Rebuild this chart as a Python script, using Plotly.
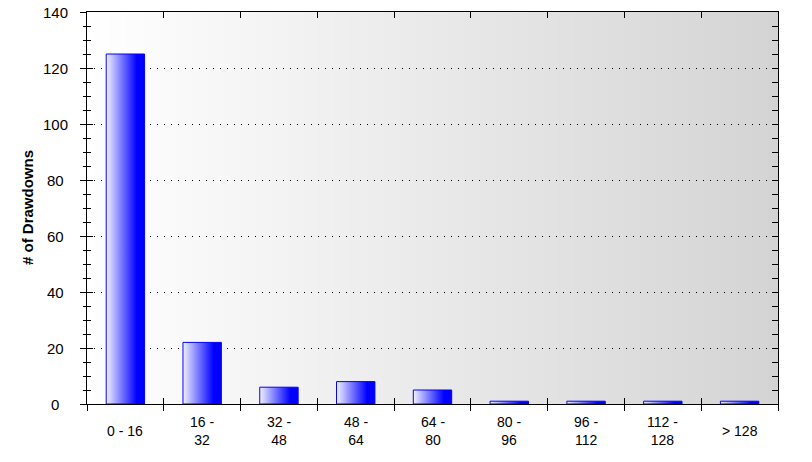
import base64, struct, zlib
import plotly.graph_objects as go

categories = ["0 - 16", "16 -<br>32", "32 -<br>48", "48 -<br>64", "64 -<br>80",
              "80 -<br>96", "96 -<br>112", "112 -<br>128", "> 128"]
counts = [125, 22, 6, 8, 5, 1, 1, 1, 1]
y_ticks = [0, 20, 40, 60, 80, 100, 120, 140]

FONT = "Liberation Sans, Arial, sans-serif"
n = len(categories)
half = 0.25
boundaries = [i - 0.5 for i in range(n + 1)]
PLOT_W = 812 - 87 - 34


def gradient_png(c0, c1, w=256):
    raw = b"\x00"
    for i in range(w):
        t = i / (w - 1)
        raw += bytes(int(round(c0[k] + (c1[k] - c0[k]) * t)) for k in range(3))

    def chunk(tag, data):
        c = struct.pack(">I", len(data)) + tag + data
        return c + struct.pack(">I", zlib.crc32(tag + data) & 0xFFFFFFFF)

    png = b"\x89PNG\r\n\x1a\n"
    png += chunk(b"IHDR", struct.pack(">IIBBBBB", w, 1, 8, 2, 0, 0, 0))
    png += chunk(b"IDAT", zlib.compress(raw))
    png += chunk(b"IEND", b"")
    return "data:image/png;base64," + base64.b64encode(png).decode()


fig = go.Figure()

for i, v in enumerate(counts):
    x0, x1 = i - half, i + half
    fig.add_trace(go.Scatter(
        x=[x0, x0, x1, x1, x0], y=[0, v, v, 0, 0],
        mode="lines", fill="toself",
        fillgradient=dict(type="horizontal",
                          colorscale=[[0, "#f2f2ff"], [0.8, "#0000ff"], [1, "#0000ff"]]),
        line=dict(color="#0000ff", width=1),
        hoverinfo="skip", showlegend=False,
    ))

# invisible helpers so the frame axes are drawn
for xa, ya in [("x2", "y"), ("x3", "y"), ("x", "y2"), ("x", "y3")]:
    fig.add_trace(go.Scatter(x=[None], y=[None], xaxis=xa, yaxis=ya, mode="markers",
                             hoverinfo="skip", showlegend=False))

annotations = []
for i, lab in enumerate(categories):
    annotations.append(dict(
        x=i, y=0, xref="x", yref="paper", text=lab, showarrow=False,
        xanchor="center", yanchor="middle", yshift=-27, align="center",
        font=dict(family=FONT, size=14, color="black"),
    ))
for t in y_ticks:
    annotations.append(dict(
        x=(55 - 87) / PLOT_W, y=t, xref="paper", yref="y", text=str(t),
        showarrow=False, xanchor="center", yanchor="middle",
        font=dict(family=FONT, size=15, color="black"),
    ))
annotations.append(dict(
    x=(27 - 87) / PLOT_W, y=0.5, xref="paper", yref="paper", text="<b># of Drawdowns</b>",
    textangle=-90, showarrow=False, xanchor="center", yanchor="middle",
    font=dict(family=FONT, size=15, color="black"),
))

frame = dict(showgrid=False, zeroline=False, automargin=False, fixedrange=True,
             tickcolor="black", tickwidth=1)

fig.update_layout(
    width=812, height=462,
    margin=dict(l=87, r=34, t=12, b=58, autoexpand=False),
    paper_bgcolor="white", plot_bgcolor="white",
    font=dict(family=FONT, size=14, color="black"),
    images=[dict(source=gradient_png((255, 255, 255), (212, 212, 212)),
                 xref="paper", yref="paper", x=0, y=1, sizex=1, sizey=1,
                 sizing="stretch", layer="below", xanchor="left", yanchor="top")],
    annotations=annotations,
    xaxis=dict(range=[-0.5, n - 0.5], tickmode="array", tickvals=boundaries,
               showticklabels=False, ticks="outside", ticklen=6,
               showline=True, linecolor="black", linewidth=1, **frame),
    xaxis2=dict(range=[-0.5, n - 0.5], overlaying="x", side="top", anchor="y",
                tickmode="array", tickvals=boundaries, showticklabels=False,
                ticks="inside", ticklen=6,
                showline=True, linecolor="black", linewidth=1, **frame),
    xaxis3=dict(range=[-0.5, n - 0.5], overlaying="x", side="bottom", anchor="y",
                tickmode="array", tickvals=boundaries[1:-1], showticklabels=False,
                ticks="inside", ticklen=6, showline=False, **frame),
    yaxis=dict(range=[0, 140], tickmode="array", tickvals=y_ticks,
               ticks="outside", ticklen=6, showticklabels=False,
               minor=dict(dtick=5, tick0=0, ticks="outside", ticklen=3,
                          tickcolor="black", showgrid=False),
               showline=True, linecolor="black", linewidth=1,
               showgrid=True, gridcolor="black", gridwidth=1, griddash="1px,6px",
               zeroline=False, fixedrange=True, automargin=False,
               tickcolor="black", tickwidth=1),
    yaxis2=dict(range=[0, 140], overlaying="y", side="right", anchor="x",
                dtick=5, tick0=0, showticklabels=False, ticks="inside", ticklen=6,
                showline=True, linecolor="black", linewidth=1, **frame),
    yaxis3=dict(range=[0, 140], overlaying="y", side="left", anchor="x",
                tickmode="array", tickvals=y_ticks, showticklabels=False,
                ticks="inside", ticklen=6,
                minor=dict(dtick=5, tick0=0, ticks="inside", ticklen=4,
                           tickcolor="black", showgrid=False),
                showline=False, **frame),
)

fig.write_html("out.html", config={"displayModeBar": False},
               post_script="document.body.style.margin='0';")
